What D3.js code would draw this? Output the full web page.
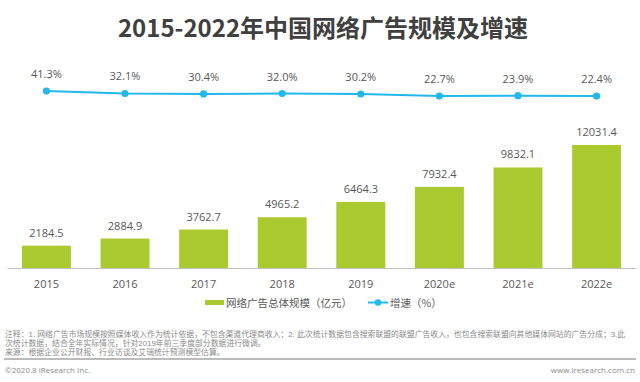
<!DOCTYPE html>
<html><head><meta charset="utf-8">
<script src="https://cdn.jsdelivr.net/npm/d3@7"></script>
<style>html,body{margin:0;padding:0;background:#fff;}svg{display:block;}</style>
</head><body>
<svg id="chart" width="640" height="382"></svg>
<script>
const categories = ["2015","2016","2017","2018","2019","2020e","2021e","2022e"];
const scaleValues = [2184.5,2884.9,3762.7,4965.2,6464.3,7932.4,9832.1,12031.4];
const growthValues = [41.3,32.1,30.4,32.0,30.2,22.7,23.9,22.4];
const titleText = "2015-2022年中国网络广告规模及增速";
const legendLabels = ["网络广告总体规模（亿元）","增速（%）"];
const noteLines = [
  "注释：1. 网络广告市场规模按照媒体收入作为统计依据，不包含渠道代理商收入；2. 此次统计数据包含搜索联盟的联盟广告收入，也包含搜索联盟向其他媒体网站的广告分成；3.此",
  "次统计数据，结合全年实际情况，针对2019年前三季度部分数据进行微调。",
  "来源：根据企业公开财报、行业访谈及艾瑞统计预测模型估算。"
];
const copyrightText = "©2020.8 iResearch Inc.";
const siteText = "www.iresearch.com.cn";

const barColor = "#abca2f", lineColor = "#22b8ea", textColor = "#595959";
const numFont = "'Open Sans','Noto Sans CJK SC',sans-serif";
const cjkFont = "'Noto Sans CJK SC','Open Sans',sans-serif";
const noteFont = "'Liberation Sans','Noto Sans CJK SC',sans-serif";

const svg = d3.select("#chart");

svg.append("text").attr("x", 323).attr("y", 37).attr("text-anchor","middle")
  .attr("font-family", cjkFont).attr("font-weight","bold").attr("font-size", 24)
  .attr("fill","#404040").text(titleText);

const x = d3.scaleBand().domain(categories).range([7, 636]).paddingInner(0.377).paddingOuter(0.19);
const y = d3.scaleLinear().domain([0, d3.max(scaleValues)]).range([268, 145]);
const y2 = d3.scaleLinear().domain([0, 100]).range([102, 75.5]);

// bars
svg.append("g").selectAll("rect").data(scaleValues).join("rect")
  .attr("x", (d,i)=>x(categories[i])).attr("width", x.bandwidth())
  .attr("y", d=>y(d)).attr("height", d=>y(0)-y(d)).attr("fill", barColor);

svg.append("g").selectAll("text").data(scaleValues).join("text")
  .attr("x", (d,i)=>x(categories[i])+x.bandwidth()/2).attr("y", d=>y(d)-9)
  .attr("text-anchor","middle").attr("font-family", numFont).attr("font-size", 11)
  .attr("fill", textColor).text(d=>d.toFixed(1));

// axis
const xAxis = d3.axisBottom(x).tickSize(0).tickPadding(12);
const ax = svg.append("g").attr("transform","translate(0,268)").call(xAxis);
ax.select(".domain").attr("stroke","#bfbfbf").attr("stroke-width",1.2);
ax.selectAll("text").attr("font-family", numFont).attr("font-size", 11).attr("fill", textColor);

// line
const cx = (i)=>x(categories[i])+x.bandwidth()/2;
const line = d3.line().x((d,i)=>cx(i)).y(d=>y2(d));
svg.append("path").datum(growthValues).attr("d", line).attr("fill","none")
  .attr("stroke", lineColor).attr("stroke-width", 2);
svg.append("g").selectAll("circle").data(growthValues).join("circle")
  .attr("cx",(d,i)=>cx(i)).attr("cy", d=>y2(d)).attr("r",3.6).attr("fill", lineColor);
svg.append("g").selectAll("text").data(growthValues).join("text")
  .attr("x",(d,i)=>cx(i)).attr("y", d=>y2(d)-13).attr("text-anchor","middle")
  .attr("font-family", numFont).attr("font-size", 11).attr("fill", textColor)
  .text(d=>d.toFixed(1)+"%");

// legend
const lg = svg.append("g");
lg.append("rect").attr("x",205).attr("y",300).attr("width",19).attr("height",5).attr("fill",barColor);
lg.append("text").attr("x",226).attr("y",302.5).attr("dominant-baseline","central")
  .attr("font-family", cjkFont).attr("font-size",10.5).attr("fill",textColor).text(legendLabels[0]);
lg.append("line").attr("x1",368).attr("x2",388).attr("y1",302.5).attr("y2",302.5)
  .attr("stroke",lineColor).attr("stroke-width",2);
lg.append("circle").attr("cx",378).attr("cy",302.5).attr("r",3.3).attr("fill",lineColor);
lg.append("text").attr("x",390).attr("y",302.5).attr("dominant-baseline","central")
  .attr("font-family", cjkFont).attr("font-size",10.5).attr("fill",textColor).text(legendLabels[1]);

// notes
svg.append("g").selectAll("text").data(noteLines).join("text")
  .attr("x",5).attr("y",(d,i)=>337+i*9)
  .attr("font-family", noteFont).attr("font-size",7.85).attr("fill","#8c8c8c").text(d=>d);
svg.append("line").attr("x1",4).attr("x2",636).attr("y1",359).attr("y2",359)
  .attr("stroke","#a6a6a6").attr("stroke-width",1.5);
svg.append("text").attr("x",5).attr("y",372.5)
  .attr("font-family", numFont).attr("font-size",8).attr("fill","#8c8c8c").text(copyrightText);
svg.append("text").attr("x",635).attr("y",372.5).attr("text-anchor","end")
  .attr("font-family", numFont).attr("font-size",8).attr("fill","#8c8c8c").text(siteText);
</script>
</body></html>
